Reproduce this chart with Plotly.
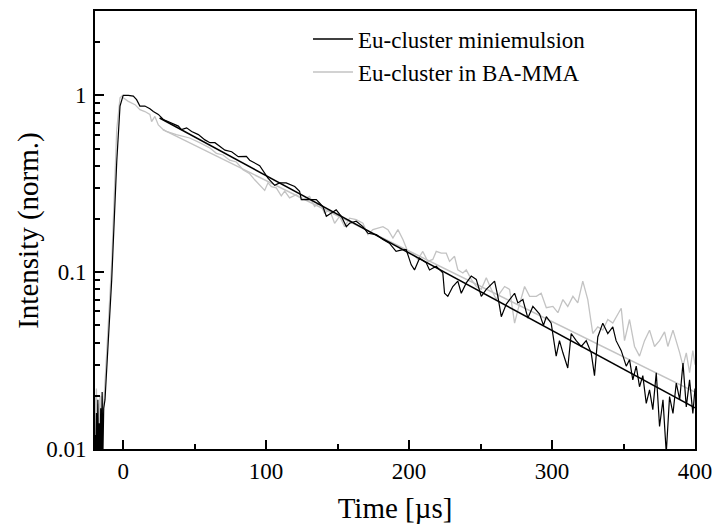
import plotly.graph_objects as go

# Eu-cluster miniemulsion (black) : time [us], normalized intensity
t_mini = [-19.7, -19.2, -18.7, -18.2, -17.7, -17.2, -16.7, -16.2, -15.7, -15.2, -14.7, -14.2, -13.6, -12.7,
          -8, -4.5, -2.2, 0, 3.6, 7.1, 9.4, 11.7, 15.2, 18.7, 21.1, 24.6, 28.1, 33.9, 38.6, 40.8, 44.4,
          47.9, 52.6, 57.2, 60.7, 64.2, 67.7, 71.2, 75.9, 80.5, 86.2, 88.5, 95.5, 99, 101.3, 106, 109.4,
          114, 120, 123.4, 124.6, 129.2, 135.1, 139.7, 142.1, 145.6, 149, 152.6, 156.1, 158.4, 163,
          167.7, 171.2, 177.1, 181.7, 186.2, 190.9, 195.7, 198, 201.5, 203.8, 207.3, 212, 214.3, 219,
          223.6, 224.8, 227.1, 230.6, 234.1, 236.5, 240, 243.5, 247, 250.5, 254, 259.8, 262.1, 264.5,
          268, 273.8, 276.1, 279.6, 283.1, 286.6, 291.3, 294, 296, 299.4, 302.9, 305.2, 307.6, 311,
          313.4, 316.9, 320.4, 323.9, 327.4, 329.7, 332, 335.5, 339, 342.5, 344.8, 348.4, 351.9, 354.2,
          356.5, 358.9, 361.2, 363.5, 365.9, 368.2, 370.5, 372.9, 375.2, 377.6, 379.9, 382.2, 384.6,
          386.9, 389.3, 391.6, 393.9, 396.2, 398.5, 400]
i_mini = [0.012, 0.008, 0.016, 0.009, 0.019, 0.008, 0.014, 0.009, 0.017, 0.008, 0.021, 0.009, 0.017, 0.019,
          0.091, 0.42, 0.87, 1.0, 1.0, 0.99, 0.945, 0.87, 0.87, 0.84, 0.81, 0.78, 0.73, 0.70, 0.67, 0.64, 0.655,
          0.625, 0.60, 0.56, 0.54, 0.54, 0.515, 0.49, 0.48, 0.45, 0.452, 0.43, 0.40, 0.364, 0.34, 0.31, 0.32,
          0.32, 0.305, 0.287, 0.257, 0.257, 0.257, 0.235, 0.207, 0.216, 0.225, 0.207, 0.181, 0.189, 0.194,
          0.181, 0.166, 0.163, 0.153, 0.146, 0.131, 0.134, 0.134, 0.110, 0.103, 0.120, 0.113, 0.103, 0.108,
          0.099, 0.076, 0.073, 0.083, 0.089, 0.076, 0.087, 0.095, 0.091, 0.073, 0.080, 0.089, 0.073, 0.056,
          0.066, 0.076, 0.067, 0.070, 0.055, 0.064, 0.058, 0.050, 0.056, 0.0515, 0.0335, 0.041, 0.035, 0.0287,
          0.045, 0.041, 0.038, 0.041, 0.035, 0.026, 0.043, 0.0515, 0.045, 0.049, 0.041, 0.036, 0.0294, 0.032,
          0.0246, 0.0294, 0.0225, 0.026, 0.0181, 0.0216, 0.0167, 0.027, 0.0134, 0.019, 0.0095, 0.0198, 0.0159,
          0.0236, 0.019, 0.0306, 0.0173, 0.0246, 0.0159, 0.022]

# Eu-cluster in BA-MMA (grey)
t_ba = [-19.7, -19.2, -18.7, -18.2, -17.7, -17.2, -16.7, -16.2, -15.6, -14.8, -13.9, -8, -4.5, -2.2, -1, 0,
        3.6, 8.3, 11.7, 15.2, 18.7, 19.9, 22.2, 24.6, 28.1, 30.2, 37.2, 46.5, 53.5, 60.5, 65.2, 69.8, 74.5,
        79.2, 83.8, 88.5, 92, 96.6, 99, 101.3, 103.7, 107.1, 110.6, 113, 116.4, 121.1, 125.7, 130.4, 133.9,
        137.4, 140.8, 144.4, 147.9, 151.4, 154.9, 158.4, 163, 167.7, 171.2, 174.7, 178.2, 181.7, 185.2,
        188.7, 192.2, 195.7, 199.2, 202.6, 206.1, 209.6, 213.1, 216.6, 219, 222.5, 226, 228.3, 231.8, 234.1,
        237.6, 240, 243.5, 247, 250.5, 254, 257.5, 261, 263.4, 266.8, 270.3, 273.8, 276.1, 280.8, 284.3,
        289, 292.4, 296, 300.6, 304.1, 307.6, 311, 314.6, 318, 321.5, 325, 328.5, 332, 335.5, 339, 342.5,
        344.8, 348.4, 350.7, 354.2, 357.7, 361.2, 364.7, 368.2, 371.7, 375.2, 378.7, 381, 384.6, 386.9,
        389.3, 391.6, 393.9, 396.2, 398.5, 400]
i_ba = [0.02, 0.011, 0.022, 0.012, 0.018, 0.009, 0.016, 0.02, 0.012, 0.02, 0.016, 0.113, 0.64, 0.97, 0.99, 0.97,
        0.925, 0.886, 0.83, 0.81, 0.78, 0.71, 0.76, 0.68, 0.64, 0.625, 0.60, 0.574, 0.54, 0.505, 0.47, 0.46, 0.43,
        0.42, 0.38, 0.36, 0.333, 0.305, 0.29, 0.32, 0.305, 0.30, 0.27, 0.287, 0.263, 0.274, 0.257, 0.268, 0.235,
        0.247, 0.216, 0.225, 0.189, 0.207, 0.181, 0.202, 0.198, 0.189, 0.163, 0.174, 0.178, 0.181, 0.174,
        0.156, 0.174, 0.153, 0.13, 0.128, 0.118, 0.131, 0.115, 0.118, 0.131, 0.128, 0.128, 0.115, 0.123, 0.103,
        0.099, 0.103, 0.091, 0.083, 0.080, 0.093, 0.080, 0.070, 0.076, 0.083, 0.080, 0.0515, 0.061, 0.083, 0.073,
        0.073, 0.076, 0.063, 0.064, 0.059, 0.070, 0.064, 0.073, 0.067, 0.089, 0.070, 0.045, 0.049, 0.047, 0.054,
        0.0515, 0.056, 0.0625, 0.041, 0.054, 0.038, 0.0335, 0.041, 0.047, 0.038, 0.041, 0.046, 0.038, 0.047,
        0.041, 0.035, 0.0294, 0.035, 0.027, 0.036, 0.030]

# Mono-exponential fits (straight lines on the log axis): end points
t_fit_mini = [25.5, 400]
i_fit_mini = [0.745, 0.0171]
t_fit_ba = [27.8, 400]
i_fit_ba = [0.64, 0.021]

series_names = ["Eu-cluster miniemulsion", "Eu-cluster in BA-MMA"]
x_major = [0, 100, 200, 300, 400]
x_minor = [50, 150, 250, 350]
y_major = [0.01, 0.1, 1]
y_major_text = ["0.01", "0.1", "1"]
y_minor = [0.02, 0.03, 0.04, 0.05, 0.06, 0.07, 0.08, 0.09,
           0.2, 0.3, 0.4, 0.5, 0.6, 0.7, 0.8, 0.9, 2]

BLACK = "#000000"
GREY = "#c3c3c3"
FONT = "Times New Roman, Liberation Serif, serif"

fig = go.Figure()
fig.add_trace(go.Scatter(x=t_ba, y=i_ba, mode="lines", name=series_names[1],
                         line=dict(color=GREY, width=1.3), showlegend=False))
fig.add_trace(go.Scatter(x=t_fit_ba, y=i_fit_ba, mode="lines", line=dict(color=GREY, width=1.5),
                         showlegend=False))
fig.add_trace(go.Scatter(x=t_mini, y=i_mini, mode="lines", name=series_names[0],
                         line=dict(color=BLACK, width=1.2), showlegend=False))
fig.add_trace(go.Scatter(x=t_fit_mini, y=i_fit_mini, mode="lines", line=dict(color=BLACK, width=1.5),
                         showlegend=False))
# legend entries
fig.add_trace(go.Scatter(x=[None], y=[None], mode="lines", name=series_names[0],
                         line=dict(color=BLACK, width=1.5)))
fig.add_trace(go.Scatter(x=[None], y=[None], mode="lines", name=series_names[1],
                         line=dict(color=GREY, width=1.5)))

fig.update_layout(
    width=713, height=526,
    margin=dict(l=95, r=18, t=11, b=77),
    paper_bgcolor="white", plot_bgcolor="white",
    font=dict(family=FONT, color="black", size=23),
    showlegend=True,
    legend=dict(x=0.355, y=0.985, xanchor="left", yanchor="top", bgcolor="rgba(0,0,0,0)",
                font=dict(size=23, family=FONT), itemwidth=40, tracegroupgap=0),
    annotations=[dict(text="Intensity (norm.)", textangle=-90, xref="paper", yref="paper",
                      x=-0.112, y=0.5, xanchor="center", yanchor="middle", showarrow=False,
                      font=dict(size=29, family=FONT))],
)
fig.update_xaxes(
    range=[-19.7, 400], showline=True, linecolor="black", linewidth=2, mirror=True,
    showgrid=False, zeroline=False, automargin=False,
    tickmode="array", tickvals=x_major, ticks="inside", ticklen=9, tickwidth=2, tickcolor="black",
    minor=dict(tickmode="array", tickvals=x_minor, ticks="inside", ticklen=5, tickwidth=2,
               tickcolor="black", showgrid=False),
    tickfont=dict(size=23, family=FONT),
    title=dict(text="Time [µs]", font=dict(size=29, family=FONT)),
)
fig.update_yaxes(
    type="log", range=[-2, 0.4771], showline=True, linecolor="black", linewidth=2, mirror=True,
    showgrid=False, zeroline=False, automargin=False,
    tickmode="array", tickvals=y_major, ticktext=y_major_text, ticks="inside", ticklen=9,
    tickwidth=2, tickcolor="black",
    minor=dict(tickmode="array", tickvals=y_minor, ticks="inside", ticklen=5, tickwidth=2,
               tickcolor="black", showgrid=False),
    tickfont=dict(size=23, family=FONT),
    ticklabelstandoff=2,
)

fig.write_html("out.html")
